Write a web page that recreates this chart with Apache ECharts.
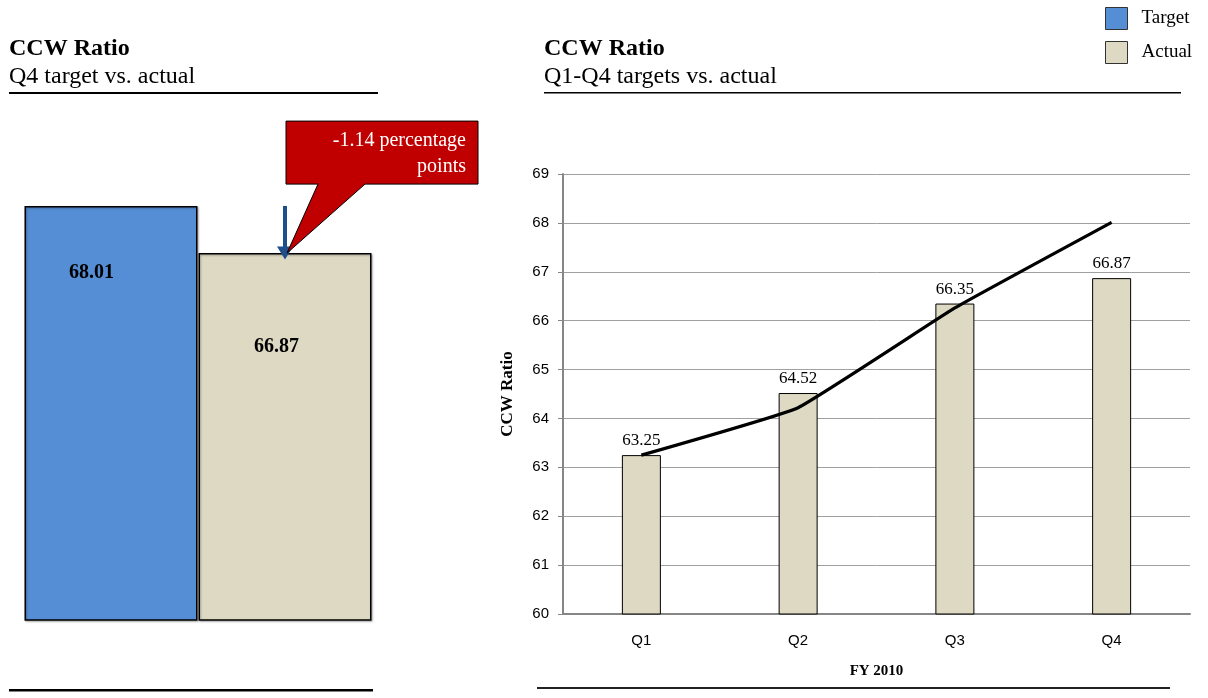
<!DOCTYPE html>
<html>
<head>
<meta charset="utf-8">
<script src="https://cdn.jsdelivr.net/npm/echarts@6/dist/echarts.min.js"></script>
<style>
  html, body { margin: 0; padding: 0; background: #fff; }
  #main { width: 1208px; height: 698px; }
</style>
</head>
<body>
<div id="main"></div>
<script>
// left panel: Q4 target vs. actual
var q4Names = ['Target', 'Actual'];
var q4Target = 68.01;
var q4Actual = 66.87;
var gapText = '-1.14 percentage\npoints';

// right panel: quarterly values
var quarters = ['Q1', 'Q2', 'Q3', 'Q4'];
var actualValues = [63.25, 64.52, 66.35, 66.87];
var targetValues = [63.25, 64.22, 66.26, 68.01];
var yTicks = [60, 61, 62, 63, 64, 65, 66, 67, 68, 69];

var SERIF = '"Liberation Serif", "Times New Roman", serif';
var SANS = '"Liberation Sans", Arial, sans-serif';
var BLUE = '#558ED5';
var BEIGE = '#DDD9C3';

var chart = echarts.init(document.getElementById('main'));

var titleStyle = { fontFamily: SERIF, fontSize: 24, fontWeight: 'bold', color: '#000' };
var subStyle = { fontFamily: SERIF, fontSize: 24, color: '#000' };

var option = {
  animation: false,
  title: [
    { text: 'CCW Ratio', subtext: 'Q4 target vs. actual', left: 9, top: 37, padding: 0, itemGap: 4,
      textStyle: titleStyle, subtextStyle: subStyle },
    { text: 'CCW Ratio', subtext: 'Q1-Q4 targets vs. actual', left: 544, top: 37, padding: 0, itemGap: 4,
      textStyle: titleStyle, subtextStyle: subStyle }
  ],
  legend: {
    left: 1105,
    top: 7,
    padding: 0,
    orient: 'vertical',
    itemWidth: 22,
    itemHeight: 22,
    itemGap: 11,
    selectedMode: false,
    textStyle: { fontFamily: SERIF, fontSize: 19, color: '#000', padding: [3, 0, 0, 9] },
    data: [
      { name: 'Target', icon: 'rect', itemStyle: { color: BLUE, borderColor: '#333', borderWidth: 1 } },
      { name: 'Actual', icon: 'rect', itemStyle: { color: BEIGE, borderColor: '#333', borderWidth: 1 } }
    ]
  },
  grid: [
    { left: 24, width: 348, top: 165, bottom: 78 },
    { left: 563, right: 18, top: 174, bottom: 84 }
  ],
  xAxis: [
    { gridIndex: 0, type: 'category', data: q4Names, show: false },
    {
      gridIndex: 1, type: 'category', data: quarters,
      name: 'FY 2010', nameLocation: 'middle', nameGap: 50,
      nameTextStyle: { fontFamily: SERIF, fontSize: 15, fontWeight: 'bold', color: '#000' },
      axisLine: { lineStyle: { color: '#868686', width: 2 } },
      axisTick: { show: false },
      axisLabel: { fontFamily: SANS, fontSize: 15, color: '#000', margin: 19 }
    }
  ],
  yAxis: [
    { gridIndex: 0, type: 'value', min: 58, max: 69, show: false },
    {
      gridIndex: 1, type: 'value',
      min: yTicks[0], max: yTicks[yTicks.length - 1], interval: 1,
      name: 'CCW Ratio', nameLocation: 'middle', nameGap: 47,
      nameTextStyle: { fontFamily: SERIF, fontSize: 17, fontWeight: 'bold', color: '#000' },
      axisLine: { show: true, lineStyle: { color: '#868686', width: 2 } },
      axisTick: { show: true, length: 5, lineStyle: { color: '#868686', width: 1 } },
      splitLine: { lineStyle: { color: '#A0A0A0', width: 1 } },
      axisLabel: { fontFamily: SANS, fontSize: 15, color: '#000', margin: 14 }
    }
  ],
  series: [
    {
      name: 'Target', type: 'bar', xAxisIndex: 0, yAxisIndex: 0, stack: 'q4',
      barWidth: 173,
      data: [q4Target, '-'],
      itemStyle: { color: BLUE, borderColor: '#000', borderWidth: 1.5,
        shadowColor: 'rgba(0,0,0,0.3)', shadowBlur: 2, shadowOffsetX: 1, shadowOffsetY: 1 },
      label: { show: true, position: [67, 67], align: 'center', verticalAlign: 'middle',
        fontFamily: SERIF, fontSize: 20, fontWeight: 'bold', color: '#000' }
    },
    {
      name: 'Actual', type: 'bar', xAxisIndex: 0, yAxisIndex: 0, stack: 'q4',
      barWidth: 173,
      data: ['-', q4Actual],
      itemStyle: { color: BEIGE, borderColor: '#000', borderWidth: 1.5,
        shadowColor: 'rgba(0,0,0,0.3)', shadowBlur: 2, shadowOffsetX: 1, shadowOffsetY: 1 },
      label: { show: true, position: [78, 94], align: 'center', verticalAlign: 'middle',
        fontFamily: SERIF, fontSize: 20, fontWeight: 'bold', color: '#000' },
      markLine: {
        silent: true,
        symbol: ['none', 'triangle'],
        symbolSize: [16, 13],
        label: { show: false },
        lineStyle: { color: '#1F4E8C', width: 4, type: 'solid', opacity: 1 },
        data: [[{ coord: ['Actual', q4Target] }, { coord: ['Actual', q4Actual] }]]
      }
    },
    {
      name: 'Actual', type: 'bar', xAxisIndex: 1, yAxisIndex: 1,
      barWidth: 39,
      data: actualValues,
      itemStyle: { color: BEIGE, borderColor: '#000', borderWidth: 1 },
      label: { show: true, position: 'top', distance: 6, fontFamily: SERIF, fontSize: 17, color: '#000' }
    },
    {
      name: 'Target', type: 'line', xAxisIndex: 1, yAxisIndex: 1,
      data: targetValues,
      smooth: 0.1,
      showSymbol: false,
      symbol: 'none',
      lineStyle: { color: '#000', width: 3.2 },
      z: 5
    }
  ]
};

chart.setOption(option);

// annotations on the left panel, anchored to the bars
var tip = chart.convertToPixel({ gridIndex: 0 }, ['Actual', q4Actual]);
var top = chart.convertToPixel({ gridIndex: 0 }, ['Actual', q4Target]);
var tx = tip[0], ty = tip[1];

chart.setOption({
  graphic: [
    // dashed guide at target level
    { type: 'line', shape: { x1: 199, y1: top[1], x2: 367, y2: top[1] },
      style: { stroke: '#999', lineWidth: 1, lineDash: [4, 2] }, z: 10 },
    // red callout
    { type: 'polygon', z: 20,
      shape: { points: [
        [tx + 1, ty - 132], [tx + 193, ty - 132], [tx + 193, ty - 69],
        [tx + 80, ty - 69], [tx + 2, ty], [tx + 33, ty - 69], [tx + 1, ty - 69]
      ] },
      style: { fill: '#C00000', stroke: '#000', lineWidth: 1 } },
    { type: 'text', z: 21, x: tx + 181, y: ty - 99,
      style: { text: gapText, fill: '#fff', font: '20px ' + SERIF, align: 'right',
        verticalAlign: 'middle', lineHeight: 26 } },
    // rules under/over the panels
    { type: 'rect', shape: { x: 9, y: 92, width: 369, height: 2 }, style: { fill: '#000' } },
    { type: 'rect', shape: { x: 544, y: 92, width: 637, height: 1.5 }, style: { fill: '#000' } },
    { type: 'rect', shape: { x: 9, y: 689, width: 364, height: 2.5 }, style: { fill: '#000' } },
    { type: 'rect', shape: { x: 537, y: 687, width: 633, height: 2 }, style: { fill: '#222' } }
  ]
});
</script>
</body>
</html>
